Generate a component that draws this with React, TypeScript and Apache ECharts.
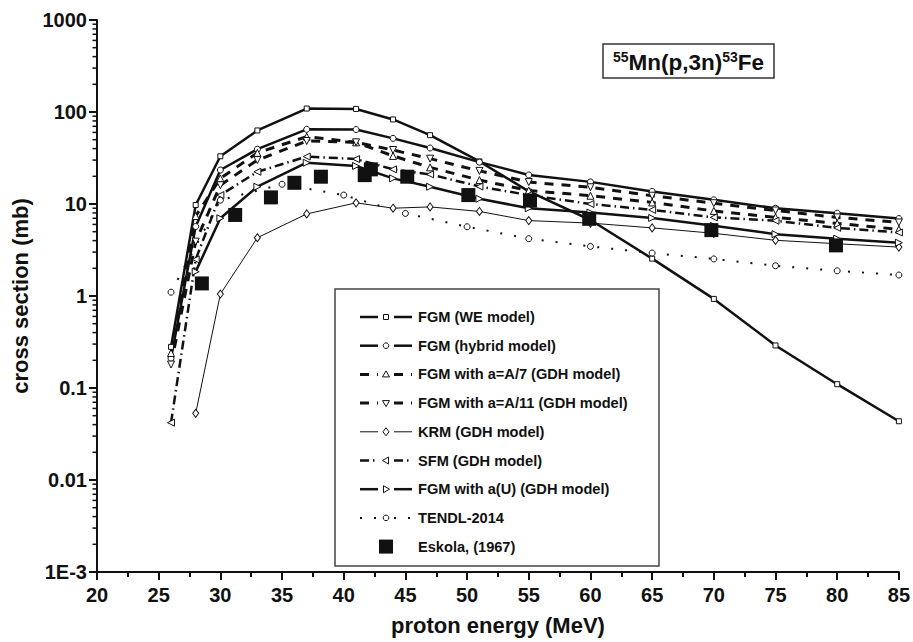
import { useEffect, useRef } from 'react';
import * as echarts from 'echarts';

// ---------------- data ----------------
const energies = [26, 28, 30, 33, 37, 41, 44, 47, 51, 55, 60, 65, 70, 75, 80, 85];
const energiesFrom28 = [28, 30, 33, 37, 41, 44, 47, 51, 55, 60, 65, 70, 75, 80, 85];
const weModel = [0.28, 9.75, 33, 63, 109, 108, 83, 56, 29, 13.7, 6.7, 2.55, 0.93, 0.29, 0.11, 0.0435];
const hybridModel = [0.21, 5.7, 23.4, 39.4, 64.8, 64.5, 51.7, 40.6, 28.5, 20.7, 17.4, 13.7, 11.1, 9.0, 7.95, 6.95];
const a7Model = [0.24, 7.4, 19, 36, 54, 46.8, 33.3, 25.0, 18.2, 14, 12.3, 10.4, 8.41, 7.16, 6.15, 5.3];
const a11Model = [0.18, 3.9, 16, 30, 48.4, 46.8, 38.6, 31.1, 22.9, 17.3, 15.2, 12.3, 10.2, 8.5, 7.15, 6.3];
const krmModel = [0.053, 1.05, 4.3, 7.8, 10.3, 9.0, 9.3, 8.3, 6.6, 6.2, 5.5, 4.8, 4.03, 3.7, 3.4];
const sfmModel = [0.042, 2.5, 12.5, 22.4, 32.8, 30.8, 23.8, 21.0, 15.5, 12.5, 10.0, 8.63, 7.16, 6.58, 5.5, 4.9];
const aUModel = [1.84, 7.0, 15.4, 28.1, 25.9, 19.0, 15.4, 11.4, 9.0, 8.07, 7.05, 5.79, 4.7, 4.2, 3.8];
const tendlEnergies = [26, 30, 35, 40, 45, 50, 55, 60, 65, 70, 75, 80, 85];
const tendlValues = [1.1, 11, 16.4, 12.5, 7.9, 5.66, 4.2, 3.46, 2.93, 2.53, 2.13, 1.88, 1.69];
const eskolaEnergies = [28.5, 31.2, 34.1, 36.0, 38.15, 41.7, 42.2, 45.15, 50.1, 55.1, 59.9, 69.8, 79.9];
const eskolaValues = [1.37, 7.6, 11.8, 17, 19.8, 20.6, 23.8, 19.8, 12.5, 10.9, 6.9, 5.2, 3.55];

const seriesNames = [
  'FGM (WE model)',
  'FGM (hybrid model)',
  'FGM with a=A/7 (GDH model)',
  'FGM with a=A/11 (GDH model)',
  'KRM (GDH model)',
  'SFM (GDH model)',
  'FGM with a(U) (GDH model)',
  'TENDL-2014',
  'Eskola, (1967)',
];
const yTickLabels = ['1E-3', '0.01', '0.1', '1', '10', '100', '1000'];
const minorMultipliers = [2, 3, 4, 5, 6, 7, 8, 9];
const xAxisTitle = 'proton energy (MeV)';
const yAxisTitle = 'cross section (mb)';

// ---------------- styles ----------------
const ink = '#111';
const font = '"Liberation Sans", Arial, Helvetica, sans-serif';

type Sty = { symbol: string; size: number | number[]; rotate: number; dash: number[] | null; width: number; legendSym: string };
const styles: Sty[] = [
  { symbol: 'rect', size: 5, rotate: 0, dash: null, width: 2.5, legendSym: 'rect' },
  { symbol: 'circle', size: 6, rotate: 0, dash: null, width: 2.5, legendSym: 'circle' },
  { symbol: 'triangle', size: 7, rotate: 0, dash: [9, 8], width: 3, legendSym: 'up' },
  { symbol: 'triangle', size: 7, rotate: 180, dash: [9, 8], width: 3, legendSym: 'down' },
  { symbol: 'diamond', size: [6, 8], rotate: 0, dash: null, width: 1, legendSym: 'diamond' },
  { symbol: 'triangle', size: 7, rotate: 90, dash: [9, 4, 1.5, 4], width: 2.5, legendSym: 'left' },
  { symbol: 'triangle', size: 7, rotate: -90, dash: null, width: 2.5, legendSym: 'right' },
  { symbol: 'circle', size: 6, rotate: 0, dash: [2, 12], width: 2, legendSym: 'circle' },
];

const pair = (xs: number[], ys: number[]) => xs.map((x, i) => [x, ys[i]]);

const lineData = [
  pair(energies, weModel),
  pair(energies, hybridModel),
  pair(energies, a7Model),
  pair(energies, a11Model),
  pair(energiesFrom28, krmModel),
  pair(energies, sfmModel),
  pair(energiesFrom28, aUModel),
  pair(tendlEnergies, tendlValues),
];

function legendSymbol(kind: string, cx: number, cy: number): any {
  const st = { fill: '#fff', stroke: ink, lineWidth: 1 };
  const r = 3.5;
  switch (kind) {
    case 'rect':
      return { type: 'rect', shape: { x: cx - 2.5, y: cy - 2.5, width: 5, height: 5 }, style: st };
    case 'circle':
      return { type: 'circle', shape: { cx, cy, r: 2.8 }, style: st };
    case 'up':
      return { type: 'polygon', shape: { points: [[cx, cy - r], [cx + r, cy + 2.5], [cx - r, cy + 2.5]] }, style: st };
    case 'down':
      return { type: 'polygon', shape: { points: [[cx, cy + r], [cx + r, cy - 2.5], [cx - r, cy - 2.5]] }, style: st };
    case 'left':
      return { type: 'polygon', shape: { points: [[cx - r, cy], [cx + 2.5, cy - r], [cx + 2.5, cy + r]] }, style: st };
    case 'right':
      return { type: 'polygon', shape: { points: [[cx + r, cy], [cx - 2.5, cy - r], [cx - 2.5, cy + r]] }, style: st };
    case 'diamond':
      return { type: 'polygon', shape: { points: [[cx, cy - 4], [cx + 3, cy], [cx, cy + 4], [cx - 3, cy]] }, style: st };
    default:
      return { type: 'rect', shape: { x: cx - 7, y: cy - 7, width: 14, height: 14 }, style: { fill: ink } };
  }
}

function buildLegend(): any[] {
  const els: any[] = [];
  els.push({
    type: 'rect',
    shape: { x: 335, y: 289, width: 324, height: 277 },
    style: { fill: 'none', stroke: '#444', lineWidth: 1.5 },
    z: 50,
  });
  seriesNames.forEach((name, i) => {
    const cy = 317 + i * 28.7;
    const cx = 386;
    if (i < styles.length) {
      const s = styles[i];
      const lstyle: any = { stroke: ink, lineWidth: s.width };
      if (s.dash) lstyle.lineDash = s.dash;
      els.push({ type: 'line', shape: { x1: 360, y1: cy, x2: 378, y2: cy }, style: lstyle, z: 51 });
      els.push({ type: 'line', shape: { x1: 394, y1: cy, x2: 412, y2: cy }, style: lstyle, z: 51 });
      els.push({ ...legendSymbol(s.legendSym, cx, cy), z: 52 });
    } else {
      els.push({ ...legendSymbol('filled', cx, cy), z: 52 });
    }
    els.push({
      type: 'text',
      x: 418,
      y: cy,
      z: 52,
      style: {
        text: name,
        fill: ink,
        font: `bold 14.6px ${font}`,
        verticalAlign: 'middle',
        align: 'left',
      },
    });
  });
  return els;
}

export default function App() {
  const ref = useRef<HTMLDivElement>(null);
  useEffect(() => {
    if (!ref.current) return;
    const chart = echarts.init(ref.current, undefined, { renderer: 'svg' });

    const series: any[] = lineData.map((data, i) => {
      const s = styles[i];
      return {
        name: seriesNames[i],
        type: 'line',
        data,
        symbol: s.symbol,
        symbolSize: s.size,
        symbolRotate: s.rotate,
        showSymbol: true,
        lineStyle: { color: ink, width: s.width, type: s.dash ? s.dash : 'solid' },
        itemStyle: { color: '#fff', borderColor: ink, borderWidth: 1 },
        z: 3,
      };
    });
    series.push({
      name: seriesNames[8],
      type: 'scatter',
      data: pair(eskolaEnergies, eskolaValues),
      symbol: 'rect',
      symbolSize: 14,
      itemStyle: { color: ink, opacity: 1 },
      z: 4,
    });

    chart.setOption({
      animation: false,
      backgroundColor: '#fff',
      title: {
        text: '{s|55}{m|Mn(p,3n)}{s|53}{m|Fe}',
        left: 603,
        top: 44,
        padding: [6, 10, 5, 10],
        borderColor: '#333',
        borderWidth: 1.5,
        textStyle: {
          rich: {
            s: { fontSize: 14, fontWeight: 'bold', fontFamily: font, color: ink, verticalAlign: 'top', lineHeight: 16 },
            m: { fontSize: 22.5, fontWeight: 'bold', fontFamily: font, color: ink, lineHeight: 24 },
          },
        },
      },
      grid: { left: 97, right: 11, top: 20, bottom: 70, containLabel: false },
      xAxis: {
        type: 'value',
        min: 20,
        max: 85,
        interval: 5,
        name: xAxisTitle,
        nameLocation: 'middle',
        nameGap: 42,
        nameTextStyle: { fontSize: 22, fontWeight: 'bold', fontFamily: font, color: ink },
        axisLine: { show: true, onZero: false, lineStyle: { color: ink, width: 2 } },
        axisTick: { show: true, inside: false, length: 8, lineStyle: { color: ink, width: 2 } },
        minorTick: { show: true, splitNumber: 2, length: 5, lineStyle: { color: ink, width: 2 } },
        axisLabel: { fontSize: 20, fontWeight: 'bold', fontFamily: font, color: ink, margin: 13 },
        splitLine: { show: false },
      },
      yAxis: {
        type: 'log',
        logBase: 10,
        min: 0.001,
        max: 1000,
        name: yAxisTitle,
        nameLocation: 'middle',
        nameGap: 66,
        nameTextStyle: { fontSize: 22, fontWeight: 'bold', fontFamily: font, color: ink },
        axisLine: { show: true, onZero: false, lineStyle: { color: ink, width: 2 } },
        axisTick: { show: true, inside: false, length: 8, lineStyle: { color: ink, width: 2 } },
        axisLabel: {
          fontSize: 20,
          fontWeight: 'bold',
          fontFamily: font,
          color: ink,
          margin: 10,
          formatter: (v: number) => {
            const e = Math.round(Math.log10(v));
            return yTickLabels[e + 3] ?? '';
          },
        },
        splitLine: { show: false },
      },
      series,
    });

    // minor log ticks on y axis, positioned through the axis scale
    const axisX = chart.convertToPixel({ xAxisIndex: 0 }, 20) as number;
    const minorEls: any[] = [];
    for (let e = -3; e < 3; e++) {
      minorMultipliers.forEach((m) => {
        const v = m * Math.pow(10, e);
        const py = chart.convertToPixel({ yAxisIndex: 0 }, v) as number;
        minorEls.push({
          type: 'line',
          shape: { x1: axisX - 4.5, y1: py, x2: axisX, y2: py },
          style: { stroke: ink, lineWidth: 1.5 },
          z: 10,
        });
      });
    }

    chart.setOption({ graphic: [...minorEls, ...buildLegend()] });

    return () => chart.dispose();
  }, []);

  return (
    <div
      ref={ref}
      style={{ position: 'fixed', left: 0, top: 0, width: 913, height: 642, background: '#fff' }}
    />
  );
}
